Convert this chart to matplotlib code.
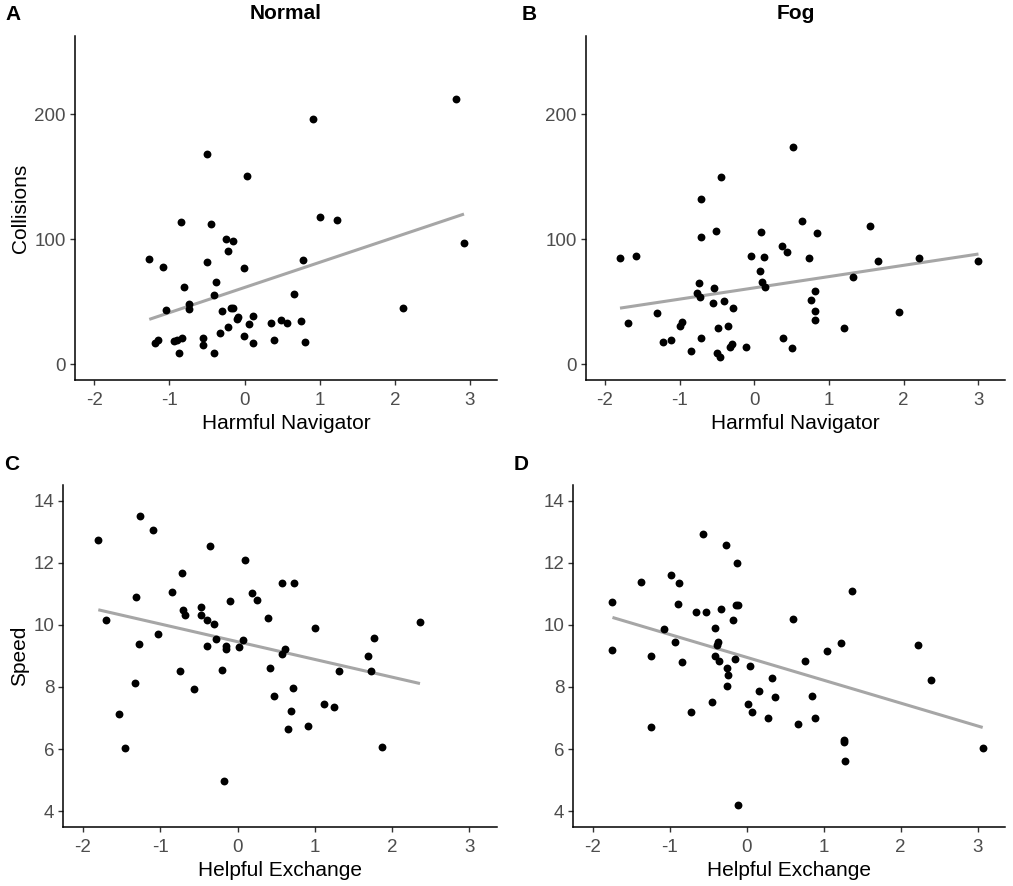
import numpy as np
import matplotlib
matplotlib.use("Agg")
from matplotlib import pyplot as plt

plt.rcParams['font.family'] = ['Liberation Sans', 'DejaVu Sans']
plt.rcParams['axes.unicode_minus'] = False

# Panel A: Normal, Harmful Navigator vs Collisions
a_x = [2.82, 0.907, -0.502, 0.036, 1.0, 1.23, -0.849, -0.449, -0.249, -0.151,
       -0.222, 2.92, -1.267, -0.498, 0.773, -1.08, -0.009, -0.382, -0.804, -0.409,
       0.662, -0.738, -0.738, -1.044, -0.302, -0.182, -0.151, 2.11, 0.107, -0.098,
       -0.08, 0.058, -0.222, 0.356, 0.48, 0.56, 0.747, -0.32, -0.009, 0.387,
       0.111, 0.804, -0.556, -0.547, -0.938, -0.893, -0.836, -1.156, -1.187, -0.867,
       -0.4]
a_y = [212, 196, 168, 150.7, 117.9, 115.2, 113.9, 112, 100, 98.9,
       90.9, 97.1, 84, 81.9, 83.7, 78.1, 76.8, 65.9, 61.9, 55.2,
       56, 48, 44.5, 43.2, 42.9, 44.8, 44.8, 44.8, 38.9, 36.5,
       37.5, 32, 29.9, 33.1, 35.2, 33.1, 34.9, 24.8, 22.9, 19.7,
       16.8, 17.9, 21.1, 15.7, 18.9, 19.2, 20.8, 19.7, 17.1, 8.8,
       8.8]

# Panel B: Fog, Harmful Navigator vs Collisions
b_x = [0.524, -0.44, -0.711, 0.644, 1.547, -0.511, 0.084, 0.84, -0.716, 0.373,
       0.444, -1.796, -1.578, -0.044, 0.133, 0.733, 1.658, 2.2, 3.0, 0.076,
       0.102, 0.147, 1.316, -0.733, -0.538, -0.769, -0.729, 0.818, 0.756, -0.547,
       -0.409, -0.28, 0.818, 0.818, 1.933, -1.302, -1.689, -0.964, -0.991, -0.484,
       -0.351, 1.196, -1.218, -1.12, -0.707, 0.387, -0.324, -0.298, -0.111, 0.511,
       -0.849, -0.502, -0.462]
b_y = [174.1, 149.9, 132, 114.9, 110.9, 106.9, 105.9, 104.8, 101.9, 94.9,
       90.1, 85.1, 86.9, 86.9, 86.1, 85.1, 82.9, 85.1, 82.9, 74.9,
       66.1, 61.9, 69.9, 64.8, 60.8, 57.3, 53.6, 58.9, 51.7, 48.8,
       50.9, 44.8, 42.9, 35.7, 41.9, 40.8, 32.8, 33.6, 30.7, 28.8,
       30.7, 28.8, 17.9, 19.7, 20.8, 20.8, 13.9, 16.5, 13.9, 12.8,
       10.9, 8.8, 5.6]

# Panel C: Normal, Helpful Exchange vs Speed
c_x = [-1.802, -1.267, -1.095, -0.358, 0.099, -0.72, 0.582, 0.737, -1.31, -0.845,
       0.185, 0.246, -0.099, -1.703, -0.703, -0.681, -0.474, -0.474, -0.401, -0.306,
       0.401, 2.362, 1.009, -1.034, -0.272, -1.28, -0.392, -0.147, -0.147, 0.022,
       0.069, 0.612, 0.582, 1.763, 1.69, 1.733, 1.31, -0.746, -0.207, 0.418,
       -1.328, -0.56, 0.724, 0.47, 0.694, 1.121, 1.254, -1.53, 0.909, 0.659,
       -1.457, 1.871, -0.177]
c_y = [12.74, 13.51, 13.04, 12.53, 12.08, 11.67, 11.35, 11.35, 10.89, 11.04,
       11.01, 10.79, 10.76, 10.15, 10.47, 10.3, 10.58, 10.31, 10.14, 10.04,
       10.23, 10.08, 9.91, 9.69, 9.55, 9.38, 9.33, 9.33, 9.23, 9.28,
       9.5, 9.21, 9.06, 9.57, 9.01, 8.52, 8.52, 8.52, 8.54, 8.62,
       8.11, 7.94, 7.96, 7.72, 7.24, 7.44, 7.34, 7.14, 6.74, 6.63,
       6.03, 6.06, 4.96]

# Panel D: Fog, Helpful Exchange vs Speed
d_x = [-0.573, -0.272, -0.129, -0.987, -1.375, -0.879, 1.371, -1.746, -0.888, -0.147,
       -0.116, -0.655, -0.534, -0.336, -0.177, 0.603, -1.078, -0.418, -1.746, -0.931,
       -0.379, -0.388, 1.228, 2.22, -1.241, -0.409, -0.358, -0.151, -0.836, 1.047,
       0.759, 0.039, -0.254, -0.246, -0.254, 0.332, 2.397, 0.155, 0.362, 0.845,
       -0.453, 0.013, -0.728, 0.069, 0.272, 0.664, 0.884, -1.246, 1.267, 1.262,
       1.272, 3.065, -0.116]
d_y = [12.91, 12.58, 11.98, 11.59, 11.39, 11.36, 11.08, 10.72, 10.66, 10.65,
       10.65, 10.40, 10.40, 10.52, 10.14, 10.18, 9.86, 9.89, 9.20, 9.43,
       9.43, 9.35, 9.40, 9.35, 9.01, 9.01, 8.83, 8.89, 8.79, 9.15,
       8.82, 8.67, 8.61, 8.38, 8.03, 8.29, 8.23, 7.87, 7.66, 7.72,
       7.53, 7.46, 7.18, 7.18, 7.01, 6.81, 6.99, 6.72, 6.24, 6.30,
       5.6, 6.03, 4.21]

W, H = 1013, 886
fig = plt.figure(figsize=(W / 100, H / 100), dpi=100)


def add_ax(left, right, top, bottom):
    return fig.add_axes([left / W, 1 - bottom / H, (right - left) / W, (bottom - top) / H])


def panel(ax, x, y, xlabel, ylabel, ylim, yticks):
    x = np.array(x)
    y = np.array(y)
    ax.scatter(x, y, s=32, color="black", linewidths=0, zorder=3)
    k, b = np.polyfit(x, y, 1)
    xs = np.array([x.min(), x.max()])
    ax.plot(xs, k * xs + b, color="#a6a6a6", lw=2.2, zorder=2, solid_capstyle="butt")
    ax.set_xlim(-2.255, 3.355)
    ax.set_ylim(*ylim)
    ax.set_xticks([-2, -1, 0, 1, 2, 3])
    ax.set_yticks(yticks)
    for s in ["top", "right"]:
        ax.spines[s].set_visible(False)
    for s in ["left", "bottom"]:
        ax.spines[s].set_linewidth(1.1)
    ax.tick_params(labelsize=13.5, labelcolor="#4d4d4d", color="#333333", length=3.5, width=1.0, pad=3)
    ax.tick_params(axis="x", pad=5)
    ax.set_xlabel(xlabel, fontsize=15, labelpad=4)
    if ylabel:
        ax.set_ylabel(ylabel, fontsize=15, labelpad=3)


axA = add_ax(75, 496.7, 36, 380)
axB = add_ax(585.7, 1005, 36, 380)
axC = add_ax(63.3, 496.7, 485, 826.7)
axD = add_ax(573.3, 1005, 485, 826.7)

panel(axA, a_x, a_y, "Harmful Navigator", "Collisions", (-12.5, 262.5), [0, 100, 200])
panel(axB, b_x, b_y, "Harmful Navigator", "", (-12.5, 262.5), [0, 100, 200])
panel(axC, c_x, c_y, "Helpful Exchange", "Speed", (3.5, 14.5), [4, 6, 8, 10, 12, 14])
panel(axD, d_x, d_y, "Helpful Exchange", "", (3.5, 14.5), [4, 6, 8, 10, 12, 14])

axA.set_title("Normal", fontsize=15, fontweight="bold", pad=12)
axB.set_title("Fog", fontsize=15, fontweight="bold", pad=12)

fig.text(5 / W, 1 - 15 / H, "A", fontsize=15, fontweight="bold", va="center", ha="left")
fig.text(522 / W, 1 - 15 / H, "B", fontsize=15, fontweight="bold", va="center", ha="left")
fig.text(4 / W, 1 - 465 / H, "C", fontsize=15, fontweight="bold", va="center", ha="left")
fig.text(514 / W, 1 - 465 / H, "D", fontsize=15, fontweight="bold", va="center", ha="left")

fig.savefig("out.png", dpi=100)
